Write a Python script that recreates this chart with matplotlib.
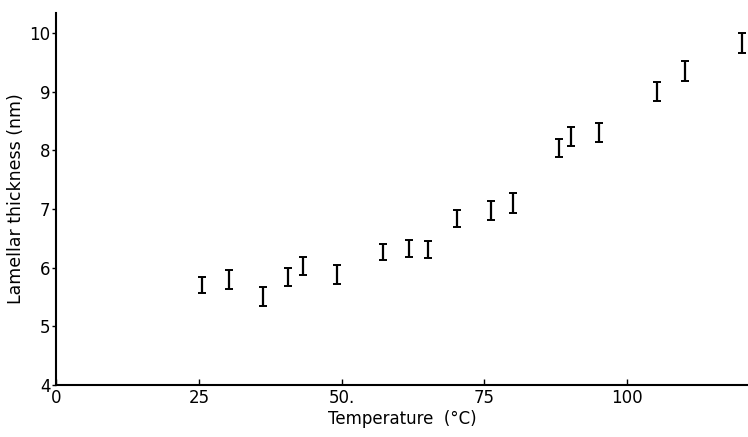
import matplotlib.pyplot as plt

# espessura lamelar vs temperatura
temperatura = [25.5, 30.2, 36.2, 40.7, 43.2, 49.2, 57.2, 61.8, 65.1,
               70.2, 76.1, 80.1, 88.1, 90.2, 95.1, 105.2, 110.2, 120.2]
espessura = [5.70, 5.80, 5.51, 5.84, 6.03, 5.89, 6.27, 6.33, 6.31,
             6.84, 6.98, 7.10, 8.04, 8.23, 8.31, 9.01, 9.35, 9.83]
erro = [0.14, 0.16, 0.16, 0.15, 0.15, 0.16, 0.14, 0.15, 0.15,
        0.15, 0.16, 0.17, 0.15, 0.16, 0.16, 0.16, 0.17, 0.17]

xticks = [0, 25, 50, 75, 100]
xtick_labels = ["0", "25", "50.", "75", "100"]
yticks = [4, 5, 6, 7, 8, 9, 10]

fig = plt.figure(figsize=(7.48, 4.37), dpi=100)
ax = fig.add_axes([0.075, 0.119, 0.925, 0.851])

ax.errorbar(temperatura, espessura, yerr=erro, fmt="none", ecolor="black",
            elinewidth=1.6, capsize=2.6, capthick=1.4)

ax.set_xlim(0, 121.2)
ax.set_ylim(4, 10.34)
ax.spines["top"].set_visible(False)
ax.spines["right"].set_visible(False)
ax.spines["left"].set_linewidth(1.5)
ax.spines["bottom"].set_linewidth(1.5)

ax.set_xticks(xticks, xtick_labels)
ax.set_yticks(yticks)
ax.tick_params(axis="x", direction="in", length=4, width=1, labelsize=12, pad=3)
ax.tick_params(axis="y", direction="out", length=3, width=1, labelsize=12, pad=1)

ax.set_xlabel("Temperature  (°C)", fontsize=12, labelpad=2)
ax.set_ylabel("Lamellar thickness (nm)", fontsize=12.5, labelpad=3)

fig.savefig("out.png", dpi=100)
